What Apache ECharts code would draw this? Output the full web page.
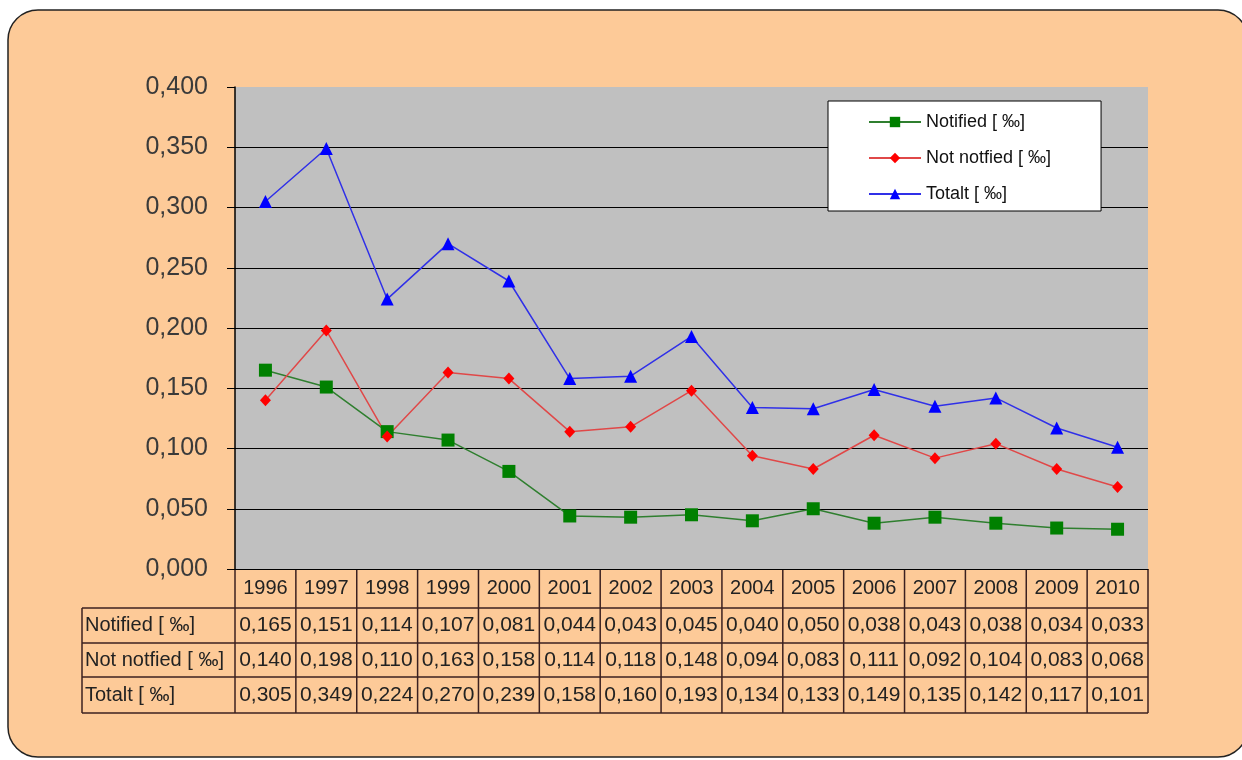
<!DOCTYPE html>
<html>
<head>
<meta charset="utf-8">
<script src="https://cdn.jsdelivr.net/npm/echarts@6/dist/echarts.min.js"></script>
<style>
  html, body { margin: 0; padding: 0; background: #fff; }
  #chart { width: 1242px; height: 760px; }
</style>
</head>
<body>
<div id="chart"></div>
<script>
const years = ['1996', '1997', '1998', '1999', '2000', '2001', '2002', '2003', '2004', '2005', '2006', '2007', '2008', '2009', '2010']
const notified = [0.165, 0.151, 0.114, 0.107, 0.081, 0.044, 0.043, 0.045, 0.040, 0.050, 0.038, 0.043, 0.038, 0.034, 0.033]
const notNotified = [0.140, 0.198, 0.110, 0.163, 0.158, 0.114, 0.118, 0.148, 0.094, 0.083, 0.111, 0.092, 0.104, 0.083, 0.068]
const totalt = [0.305, 0.349, 0.224, 0.270, 0.239, 0.158, 0.160, 0.193, 0.134, 0.133, 0.149, 0.135, 0.142, 0.117, 0.101]
const seriesNames = ['Notified [ ‰]', 'Not notfied [ ‰]', 'Totalt [ ‰]']

const fmt = v => v.toFixed(3).replace('.', ',')
const font = '"Liberation Sans", Arial, sans-serif'

const chart = echarts.init(document.getElementById('chart'))

const GRID = { left: 235, top: 87, width: 913, height: 482 }

chart.setOption({
  animation: false,
  textStyle: { fontFamily: font },
  grid: { left: GRID.left, top: GRID.top, width: GRID.width, height: GRID.height, show: true, backgroundColor: '#c0c0c0', borderWidth: 0 },
  legend: {
    left: 828, top: 101,
    orient: 'vertical',
    backgroundColor: '#fff',
    borderColor: '#000', borderWidth: 1,
    padding: [12, 50, 8, 40],
    itemGap: 18,
    itemWidth: 52, itemHeight: 13,
    textStyle: { fontSize: 18, color: '#111', fontFamily: font },
    data: seriesNames
  },
  xAxis: {
    type: 'category',
    data: years,
    axisLine: { lineStyle: { color: '#000', width: 1 } },
    axisTick: { show: false },
    axisLabel: { fontSize: 20, color: '#222', margin: 9 }
  },
  yAxis: {
    type: 'value',
    min: 0, max: 0.4, interval: 0.05,
    axisLine: { show: true, lineStyle: { color: '#000', width: 1.5 } },
    axisTick: { show: true, length: 8, lineStyle: { color: '#000' } },
    axisLabel: { fontSize: 25, color: '#3a3a3a', margin: 27, formatter: v => fmt(v) },
    splitLine: { show: true, showMaxLine: false, lineStyle: { color: '#000', width: 1.2 } }
  },
  series: [
    {
      name: seriesNames[0], type: 'line', data: notified,
      symbol: 'rect', symbolSize: 13,
      itemStyle: { color: '#008000' },
      lineStyle: { color: '#2f7f2f', width: 1.5 }
    },
    {
      name: seriesNames[1], type: 'line', data: notNotified,
      symbol: 'diamond', symbolSize: [11, 12],
      itemStyle: { color: '#ff0000' },
      lineStyle: { color: '#e04848', width: 1.5 }
    },
    {
      name: seriesNames[2], type: 'line', data: totalt,
      symbol: 'triangle', symbolSize: 13,
      itemStyle: { color: '#0000ff' },
      lineStyle: { color: '#3030e8', width: 1.5 }
    }
  ]
})

// data table below the plot, columns aligned with the category axis
const colW = GRID.width / years.length
const tableTop = GRID.top + GRID.height
const rowTops = [tableTop + 39, tableTop + 74, tableTop + 108, tableTop + 144]
const labelLeft = 82
const lineColor = '#3b2020'
const rows = [notified, notNotified, totalt]

const g = []
// rounded chart background
g.push({
  type: 'rect', z: -10, silent: true,
  shape: { x: 8, y: 10, width: 1240, height: 747, r: 30 },
  style: { fill: '#fdca98', stroke: '#222', lineWidth: 1.5 }
})
// horizontal lines
rowTops.forEach(y => {
  g.push({ type: 'line', shape: { x1: labelLeft, y1: y, x2: GRID.left + GRID.width, y2: y }, style: { stroke: lineColor, lineWidth: 1.5 } })
})
// vertical lines
for (let i = 0; i <= years.length; i++) {
  const x = chart.convertToPixel({ xAxisIndex: 0 }, years[Math.min(i, years.length - 1)]) + (i === years.length ? colW / 2 : -colW / 2)
  g.push({ type: 'line', shape: { x1: x, y1: tableTop, x2: x, y2: rowTops[3] }, style: { stroke: lineColor, lineWidth: 1.5 } })
}
g.push({ type: 'line', shape: { x1: labelLeft, y1: rowTops[0], x2: labelLeft, y2: rowTops[3] }, style: { stroke: lineColor, lineWidth: 1.5 } })
// row labels and values
rows.forEach((vals, r) => {
  const cy = (rowTops[r] + rowTops[r + 1]) / 2
  g.push({ type: 'text', x: labelLeft + 3, y: cy, style: { text: seriesNames[r], fontSize: 20, fill: '#222', fontFamily: font, verticalAlign: 'middle' } })
  vals.forEach((v, i) => {
    const cx = chart.convertToPixel({ xAxisIndex: 0 }, years[i])
    g.push({ type: 'text', x: cx, y: cy, style: { text: fmt(v), fontSize: 21, fill: '#222', fontFamily: font, align: 'center', verticalAlign: 'middle' } })
  })
})

chart.setOption({ graphic: g })
</script>
</body>
</html>
